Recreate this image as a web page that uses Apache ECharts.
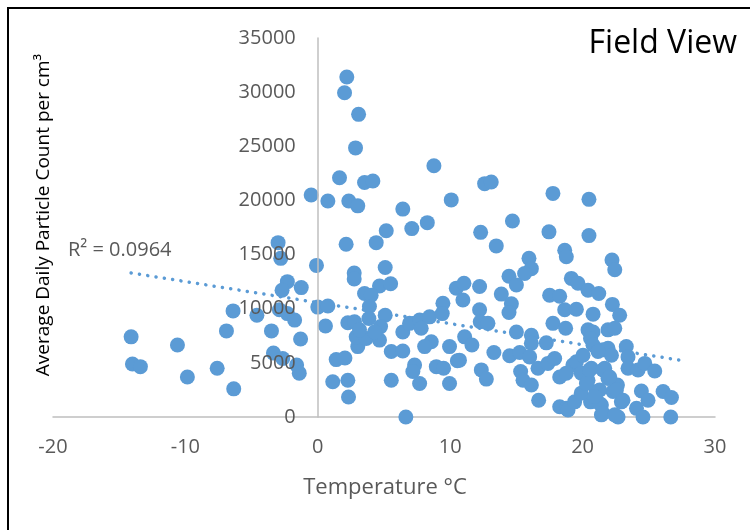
<!DOCTYPE html>
<html><head><meta charset="utf-8">
<script src="https://cdn.jsdelivr.net/npm/echarts@6/dist/echarts.min.js"></script>
<style>html,body{margin:0;padding:0;background:#fff}#c{width:750px;height:530px}</style>
</head><body><div id="c"></div>
<script>
// Temperature (°C) of each daily observation
const temps = [
-14.1,-14.0,-13.4,-10.6,-9.85,-7.6,-6.35,-6.9,-6.4,-4.6,-3.5,-3.35,-2.65,-1.6,-1.4,-1.3,-3.0,-2.8,-2.3,-2.7,-1.25,-2.9,-2.3,-1.75,-0.1,-0.5,
0.0,0.76,0.58,1.13,2.27,2.32,1.39,2.05,2.75,2.75,3.53,3.02,2.85,1.64,3.53,4.16,8.77,0.76,2.34,3.02,10.08,6.42,7.1,8.27,5.17,4.41,2.14,
5.09,4.66,5.5,4.03,3.9,3.86,5.09,4.74,2.27,2.77,2.9,3.66,4.66,3.15,4.29,5.55,6.42,5.55,6.65,6.42,6.93,7.69,8.44,9.45,9.4,7.81,8.57,8.07,
7.31,7.18,7.69,8.95,9.5,9.95,9.95,10.54,10.46,11.04,10.96,11.09,2.19,2.02,3.08,
12.6,13.1,17.76,14.7,12.3,13.48,17.46,18.65,18.77,15.95,16.13,15.62,14.44,15.0,12.22,13.86,14.62,14.44,17.51,18.27,18.65,17.76,18.72,
12.22,12.27,12.85,11.64,10.7,13.3,15.0,16.13,16.13,17.26,14.49,15.25,16.0,16.63,17.38,17.89,15.32,15.5,16.13,16.68,12.35,12.73,18.27,18.27,18.77,
20.48,20.48,22.22,22.43,19.15,19.65,20.41,21.22,22.25,22.8,20.79,19.53,20.41,20.79,21.92,22.43,20.6,20.79,21.54,21.92,22.18,23.3,23.43,
23.43,24.19,24.7,25.45,24.44,24.94,24.07,24.56,26.08,26.71,26.66,21.42,21.42,22.68,22.93,22.3,21.92,21.04,21.67,22.63,20.6,18.9,19.4,
19.27,19.53,19.9,20.03,20.66,20.41,18.77,19.9,20.53,21.54,22.05,20.29,22.55,21.29,21.29,23.05,21.54,22.43,20.91,21.16
];
// Average daily particle count per cm³
const counts = [
7400,4900,4650,6650,3700,4500,2600,7950,9800,9400,7950,5900,5400,4800,4050,7200,16100,14650,12500,11700,11950,9900,9550,8950,14000,20500,
10150,10250,8400,3250,3400,1850,5300,5450,13300,12750,11400,6500,24850,22100,21650,21800,23200,19950,19950,19500,20050,19200,17400,17950,17200,16100,15950,
13800,12100,12300,11250,10200,9100,9400,8350,8700,8800,7400,7250,7100,8050,7850,6050,6100,3400,0,7850,8650,8950,9250,10500,9550,8200,6950,6500,
4800,4200,3100,4650,4500,3100,6500,5200,11900,12350,10800,7400,31400,29950,27950,
21550,21700,20650,18100,17050,15800,17100,15400,14800,14650,13700,13250,13000,12200,12050,11350,10450,9650,11250,11150,9900,8650,8200,
9900,8800,8650,6650,5250,5950,7850,7550,6800,6850,5650,5950,5550,4500,4950,5400,4200,3400,2950,1550,4350,3500,3700,950,800,
20100,16750,14500,13600,12800,12350,11700,11400,10400,9400,9500,9950,8050,7850,8050,8200,7250,6650,6200,6350,5700,6500,5550,
4500,4350,4950,4250,2400,1550,800,0,2350,1800,0,1100,200,0,1400,2350,3550,2350,4500,2950,1400,650,1400,
4800,5100,2200,5700,4500,3400,4050,4050,4350,4350,3700,3100,2500,2500,1250,1550,350,200,1900,6050
];
// Linear trendline endpoints
const trendTemps = [-14.1, 27.6];
const trendCounts = [13300, 5200];
const xTicks = [-20, -10, 0, 10, 20, 30];
const yTicks = [0, 5000, 10000, 15000, 20000, 25000, 30000, 35000];
const chartTitle = 'Field View';
const xName = 'Temperature °C';
const yName = 'Average Daily Particle Count per cm³';
const r2Text = 'R² = 0.0964';

const FONT = "'Open Sans', 'Liberation Sans', sans-serif";
const scatterData = temps.map((t, i) => [t, counts[i]]);
const trendData = trendTemps.map((t, i) => [t, trendCounts[i]]);

// layout: y axis drawn where temperature = 0 (shifted inward from the grid's left edge)
const GRID_LEFT = 53, GRID_RIGHT = 35, W = 750;
const gridWidth = W - GRID_LEFT - GRID_RIGHT;
const yAxisShift = -gridWidth * (0 - xTicks[0]) / (xTicks[xTicks.length - 1] - xTicks[0]);

const chart = echarts.init(document.getElementById('c'), null, {renderer: 'canvas'});
chart.setOption({
  animation: false,
  backgroundColor: '#fff',
  grid: {left: GRID_LEFT, right: GRID_RIGHT, top: 38, bottom: 113, containLabel: false, outerBoundsMode: 'none'},
  xAxis: {
    type: 'value', min: xTicks[0], max: xTicks[xTicks.length - 1], interval: xTicks[1] - xTicks[0],
    splitLine: {show: false},
    axisTick: {show: false},
    axisLine: {show: true, onZero: false, lineStyle: {color: '#bfbfbf', width: 1.5}},
    axisLabel: {color: '#595959', fontSize: 20, margin: 20, fontFamily: FONT}
  },
  yAxis: {
    type: 'value', position: 'left', offset: yAxisShift, zlevel: 1, z: 10,
    min: yTicks[0], max: yTicks[yTicks.length - 1], interval: yTicks[1] - yTicks[0],
    splitLine: {show: false},
    axisTick: {show: false},
    axisLine: {show: true, onZero: false, lineStyle: {color: '#bfbfbf', width: 1.5}},
    axisLabel: {color: '#595959', fontSize: 20, margin: 22, fontFamily: FONT,
      formatter: v => String(v)}
  },
  series: [
    {
      type: 'line', data: trendData, showSymbol: false, silent: true, z: 1,
      lineStyle: {color: '#5B9BD5', width: 3.5, type: [0.1, 8.3], cap: 'round'}
    },
    {
      type: 'scatter', data: scatterData, symbolSize: 15, z: 2,
      itemStyle: {color: '#5B9BD5', opacity: 1}
    }
  ],
  graphic: [
    {type: 'rect', silent: true, shape: {x: 8, y: 8, width: 800, height: 600},
      style: {fill: 'none', stroke: '#000', lineWidth: 2}},
    {type: 'text', x: 737, y: 44, silent: true,
      style: {text: chartTitle, fill: '#000', font: '32px ' + FONT, align: 'right', verticalAlign: 'middle'}},
    {type: 'text', x: 44, y: 215, rotation: Math.PI / 2, silent: true,
      style: {text: yName, fill: '#000', font: '19px ' + FONT, align: 'center', verticalAlign: 'middle'}},
    {type: 'text', x: 385, y: 488, silent: true,
      style: {text: xName, fill: '#595959', font: '22px ' + FONT, align: 'center', verticalAlign: 'middle'}},
    {type: 'text', x: 68, y: 250, silent: true,
      style: {text: r2Text, fill: '#595959', font: '20px ' + FONT, align: 'left', verticalAlign: 'middle'}}
  ]
});
</script>
</body></html>
